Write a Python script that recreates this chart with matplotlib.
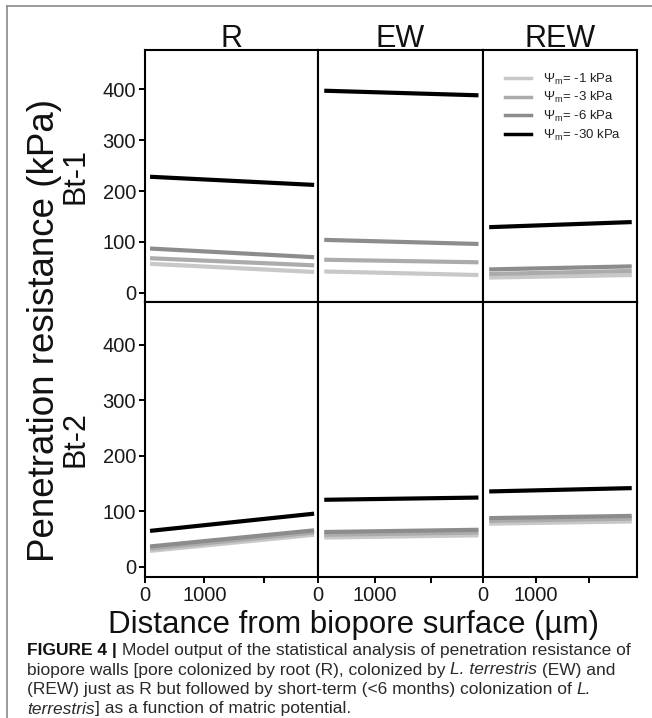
import matplotlib
matplotlib.use('Agg')
import matplotlib.pyplot as plt
from matplotlib.lines import Line2D

# ---------------- data ----------------
treatments = ['R', 'EW', 'REW']
horizons = ['Bt-1', 'Bt-2']
potential_labels = [r'$\Psi_{\mathrm{m}}$= -1 kPa', r'$\Psi_{\mathrm{m}}$= -3 kPa',
                    r'$\Psi_{\mathrm{m}}$= -6 kPa', r'$\Psi_{\mathrm{m}}$= -30 kPa']
series_colors = ['#c8c8c8', '#ababab', '#8c8c8c', '#000000']

# distance (um) at start / end of each model line, per treatment
dist_R = [85, 2845]
dist_EW = [110, 2830]
dist_REW = [117, 2810]

# penetration resistance (kPa) at start / end; rows: -1, -3, -6, -30 kPa
bt1_R = [[57, 41], [68, 54], [87, 70], [228, 212]]
bt1_EW = [[42, 35], [65, 60], [104, 96], [397, 388]]
bt1_REW = [[30, 35], [37, 43], [46, 52], [129, 139]]
bt2_R = [[29, 58], [33, 62], [37, 66], [65, 96]]
bt2_EW = [[53, 57], [58, 62], [63, 67], [121, 125]]
bt2_REW = [[78, 82], [83, 87], [88, 92], [136, 142]]

y_ticks = [0, 100, 200, 300, 400]
x_ticks = [0, 1000, 2000]
x_ticklabels = ['0', '1000', '']

# ---------------- style ----------------
W, H = 652, 718
plt.rcParams['font.family'] = ['Liberation Sans', 'DejaVu Sans']
plt.rcParams['mathtext.fontset'] = 'custom'
plt.rcParams['mathtext.rm'] = 'Liberation Sans'
plt.rcParams['mathtext.it'] = 'Liberation Sans:italic'
plt.rcParams['mathtext.bf'] = 'Liberation Sans:bold'

fig = plt.figure(figsize=(W / 100, H / 100), dpi=100)

xs = [145, 318, 483, 637]
ys = [50, 302, 577]

dists = [dist_R, dist_EW, dist_REW]
data = [[bt1_R, bt1_EW, bt1_REW], [bt2_R, bt2_EW, bt2_REW]]

axes = {}
for r in range(2):
    for c in range(3):
        ax = fig.add_axes([xs[c] / W, 1 - ys[r + 1] / H,
                           (xs[c + 1] - xs[c]) / W, (ys[r + 1] - ys[r]) / H])
        axes[(r, c)] = ax
        for k, vals in enumerate(data[r][c]):
            ax.plot(dists[c], vals, color=series_colors[k], lw=3.0,
                    solid_capstyle='butt', zorder=2 + k)
        ax.set_xlim(0, 2910)
        ax.set_ylim(-18, 477)
        for s in ax.spines.values():
            s.set_linewidth(1.5)
            s.set_color('black')
        ax.tick_params(direction='out', length=4, width=1.4, color='black',
                       labelsize=14.5, pad=2.5, labelcolor='#1a1a1a')
        if c == 0:
            ax.set_yticks(y_ticks)
            ax.set_yticklabels([str(v) for v in y_ticks])
        else:
            ax.set_yticks([])
        if r == 1:
            ax.set_xticks(x_ticks)
            ax.set_xticklabels(x_ticklabels)
        else:
            ax.set_xticks([])
        ax.set_facecolor('white')

# strip titles
for c, name in enumerate(treatments):
    fig.text((xs[c] + xs[c + 1]) / 2 / W, 1 - 47 / H, name, ha='center',
             va='baseline', fontsize=22, color='#111111')

# row labels and y title
for r, name in enumerate(horizons):
    fig.text(76 / W, 1 - (ys[r] + ys[r + 1]) / 2 / H, name, rotation=90,
             ha='center', va='center', fontsize=22, color='#111111')
fig.text(45 / W, 1 - 330 / H, 'Penetration resistance (kPa)', rotation=90,
         ha='center', va='center', fontsize=26.5, color='#111111')

# x title
fig.text(353 / W, 1 - 633 / H, 'Distance from biopore surface (\u00b5m)',
         ha='center', va='baseline', fontsize=22.5, color='#111111')

# legend
handles = [Line2D([0], [0], color=series_colors[k], lw=2.5) for k in range(4)]
axes[(0, 2)].legend(handles, potential_labels, loc='upper left',
                    bbox_to_anchor=(0.14, 0.915), frameon=False, fontsize=9.5,
                    handlelength=2.0, handletextpad=0.9, labelspacing=0.28,
                    borderaxespad=0, borderpad=0, labelcolor='#222222')

# outer frame (left and top)
fig.add_artist(Line2D([7 / W, 7 / W], [0, 1 - 6 / H], color='#8a8a8a', lw=1.2,
                      transform=fig.transFigure))
fig.add_artist(Line2D([7 / W, 1], [1 - 6 / H, 1 - 6 / H], color='#8a8a8a', lw=1.2,
                      transform=fig.transFigure))

# caption
caption = [
    [('FIGURE 4 | ', 'b'), ('Model output of the statistical analysis of penetration resistance of', 'n')],
    [('biopore walls [pore colonized by root (R), colonized by ', 'n'), ('L. terrestris', 'i'), (' (EW) and', 'n')],
    [('(REW) just as R but followed by short-term (<6 months) colonization of ', 'n'), ('L.', 'i')],
    [('terrestris', 'i'), ('] as a function of matric potential.', 'n')],
]
renderer = fig.canvas.get_renderer()
cap_size = 12.5
cap_y = [655, 674.5, 694, 713.5]


def piece_width(txt, kw):
    t1 = fig.text(0, 0, txt + 'x', **kw)
    t2 = fig.text(0, 0, 'x', **kw)
    w = t1.get_window_extent(renderer).width - t2.get_window_extent(renderer).width
    t1.remove()
    t2.remove()
    return w


for line, yp in zip(caption, cap_y):
    xp = 27
    for txt, st in line:
        kw = dict(fontsize=cap_size, color='#2a2a2a')
        if st == 'b':
            kw['fontweight'] = 'bold'
            kw['color'] = '#111111'
        if st == 'i':
            kw['fontstyle'] = 'italic'
        fig.text(xp / W, 1 - yp / H, txt, ha='left', va='baseline', **kw)
        xp += piece_width(txt, kw)

fig.savefig('out.png', dpi=100)
